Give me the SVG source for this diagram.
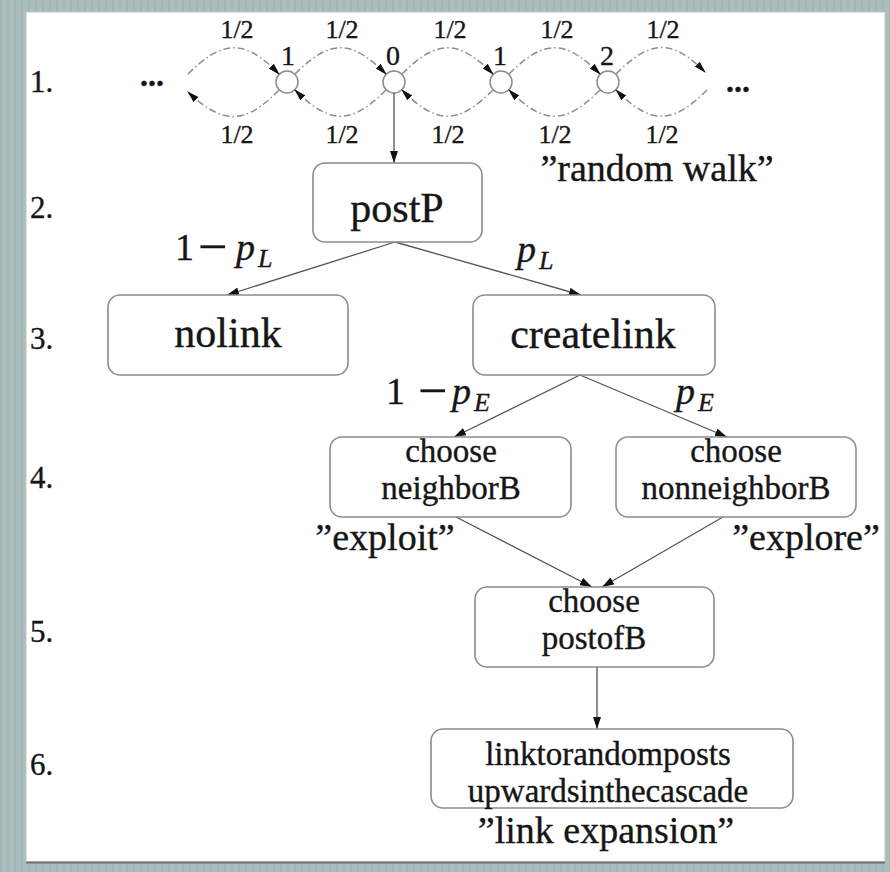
<svg xmlns="http://www.w3.org/2000/svg" width="890" height="872" viewBox="0 0 890 872">
  <defs>
    <pattern id="stripes" width="7" height="10" patternUnits="userSpaceOnUse">
      <rect width="7" height="10" fill="#aabebd"/>
      <rect x="0" width="2" height="10" fill="#a2b6b5"/>
    </pattern>
    <marker id="arrow" viewBox="0 0 12 8" refX="12" refY="4" markerWidth="12" markerHeight="8" markerUnits="userSpaceOnUse" orient="auto">
      <path d="M0,0 L12,4 L0,8 z" fill="#111"/>
    </marker>
    <marker id="walkArrow" viewBox="0 0 12 8" refX="11" refY="4" markerWidth="12" markerHeight="8" markerUnits="userSpaceOnUse" orient="auto">
      <path d="M0,0.5 L12,4 L0,7.5 z" fill="#111"/>
    </marker>
    <style>
      .box { fill: #fff; stroke: #8c8c8c; stroke-width: 1.6; }
      .state { fill: #fff; stroke: #8c8c8c; stroke-width: 1.5; }
      .edge { fill: none; stroke: #555; stroke-width: 1.3; marker-end: url(#arrow); }
      .walk { fill: none; stroke: #8e8e8e; stroke-width: 1.5; stroke-dasharray: 7 3 1.5 3; marker-end: url(#walkArrow); }
      text { font-family: "Liberation Serif", "Times New Roman", serif; fill: #161616; stroke: #161616; stroke-width: 0.35; }
      .c { text-anchor: middle; }
      .step { font-size: 31px; }
      .half { font-size: 26px; text-anchor: middle; }
      .num { font-size: 28px; text-anchor: middle; }
      .big { font-size: 42px; text-anchor: middle; }
      .mid { font-size: 33px; text-anchor: middle; }
      .low { font-size: 33px; text-anchor: middle; }
      .note { font-size: 38px; text-anchor: middle; }
      .math { font-size: 38px; }
      .minus { font-size: 52px; }
      .it { font-style: italic; }
      .sub { font-size: 26px; font-style: italic; }
    </style>
  </defs>

  <!-- backdrop and page -->
  <rect width="890" height="872" fill="url(#stripes)"/>
  <rect x="26" y="12" width="859" height="850" fill="#fff" stroke="#c4c4c4" stroke-width="1"/>
  <line x1="26" y1="862.5" x2="885" y2="862.5" stroke="#6f6f6f" stroke-width="2"/>

  <!-- step numbers -->
  <g id="steps">
    <text class="step" x="30" y="92">1.</text>
    <text class="step" x="30" y="218">2.</text>
    <text class="step" x="30" y="349">3.</text>
    <text class="step" x="30" y="488">4.</text>
    <text class="step" x="30" y="642">5.</text>
    <text class="step" x="30" y="775">6.</text>
  </g>

  <!-- random walk states -->
  <g id="walk-states">
    <g id="state-m1"><circle class="state" cx="287" cy="82" r="11"/><text class="num" x="288" y="65">1</text></g>
    <g id="state-0"><circle class="state" cx="394" cy="82" r="11"/><text class="num" x="393" y="65">0</text></g>
    <g id="state-1"><circle class="state" cx="501" cy="82" r="11"/><text class="num" x="500" y="65">1</text></g>
    <g id="state-2"><circle class="state" cx="608" cy="82" r="11"/><text class="num" x="607" y="65">2</text></g>
    <text x="152" y="86" font-size="32" font-weight="bold" class="c">...</text>
    <text x="738" y="92" font-size="32" font-weight="bold" class="c">...</text>
  </g>

  <!-- random walk transitions -->
  <g id="walk-edges">
    <path class="walk" d="M188,74 C223,39 245,39 279,74"/>
    <path class="walk" d="M279,90 C245,125 223,125 188,92"/>
    <path class="walk" d="M295,74 C330,39 351,39 386,74"/>
    <path class="walk" d="M386,90 C351,125 330,125 295,90"/>
    <path class="walk" d="M402,74 C437,39 458,39 493,74"/>
    <path class="walk" d="M493,90 C458,125 437,125 402,90"/>
    <path class="walk" d="M509,74 C544,39 565,39 600,74"/>
    <path class="walk" d="M600,90 C565,125 544,125 509,90"/>
    <path class="walk" d="M616,74 C651,39 672,39 705,72"/>
    <path class="walk" d="M707,90 C672,125 651,125 616,90"/>
  </g>
  <g id="walk-labels">
    <text class="half" x="237" y="38">1/2</text>
    <text class="half" x="342" y="38">1/2</text>
    <text class="half" x="450" y="38">1/2</text>
    <text class="half" x="557" y="38">1/2</text>
    <text class="half" x="663" y="38">1/2</text>
    <text class="half" x="237" y="143">1/2</text>
    <text class="half" x="342" y="143">1/2</text>
    <text class="half" x="448" y="143">1/2</text>
    <text class="half" x="555" y="143">1/2</text>
    <text class="half" x="662" y="143">1/2</text>
    <text class="note" x="657" y="181">”random walk”</text>
  </g>

  <!-- decision tree connectors -->
  <g id="connectors">
    <line class="edge" x1="394" y1="93" x2="394" y2="163"/>
    <line class="edge" x1="395" y1="242" x2="227" y2="295"/>
    <line class="edge" x1="395" y1="242" x2="581" y2="295"/>
    <line class="edge" x1="580" y1="375" x2="454" y2="437"/>
    <line class="edge" x1="580" y1="375" x2="727" y2="437"/>
    <line class="edge" x1="456" y1="517" x2="592" y2="587"/>
    <line class="edge" x1="723" y1="517" x2="602" y2="587"/>
    <line class="edge" x1="597" y1="667" x2="597" y2="729"/>
  </g>

  <!-- branch probabilities -->
  <g id="probabilities">
    <text class="math"><tspan x="175" y="260">1</tspan><tspan x="198" y="263.5" class="minus">−</tspan><tspan x="236" y="260" class="it">p</tspan><tspan x="258" y="267" class="sub">L</tspan></text>
    <text class="math"><tspan x="517" y="262" class="it">p</tspan><tspan x="539" y="269" class="sub">L</tspan></text>
    <text class="math"><tspan x="386" y="404">1</tspan><tspan x="418" y="407.5" class="minus">−</tspan><tspan x="452" y="404" class="it">p</tspan><tspan x="474" y="411" class="sub">E</tspan></text>
    <text class="math"><tspan x="676" y="404" class="it">p</tspan><tspan x="698" y="411" class="sub">E</tspan></text>
  </g>

  <!-- nodes -->
  <g id="postP">
    <rect class="box" x="313" y="163" width="169" height="79" rx="12"/>
    <text class="big" x="397" y="222">postP</text>
  </g>
  <g id="nolink">
    <rect class="box" x="108" y="295" width="240" height="80" rx="12"/>
    <text class="big" x="228" y="347">nolink</text>
  </g>
  <g id="createlink">
    <rect class="box" x="473" y="295" width="242" height="80" rx="12"/>
    <text class="big" x="593" y="348">createlink</text>
  </g>
  <g id="neighborB">
    <rect class="box" x="330" y="437" width="241" height="80" rx="12"/>
    <text class="mid"><tspan x="451" y="462">choose</tspan><tspan x="451" y="499">neighborB</tspan></text>
  </g>
  <g id="nonneighborB">
    <rect class="box" x="616" y="437" width="240" height="80" rx="12"/>
    <text class="mid"><tspan x="736" y="462">choose</tspan><tspan x="736" y="499">nonneighborB</tspan></text>
  </g>
  <g id="postofB">
    <rect class="box" x="475" y="587" width="239" height="80" rx="12"/>
    <text class="mid"><tspan x="594" y="612">choose</tspan><tspan x="594" y="649">postofB</tspan></text>
  </g>
  <g id="linkexpansion">
    <rect class="box" x="431" y="729" width="362" height="79" rx="12"/>
    <text class="low"><tspan x="608" y="765">linktorandomposts</tspan><tspan x="608" y="802">upwardsinthecascade</tspan></text>
  </g>

  <!-- captions -->
  <g id="captions">
    <text class="note" x="385" y="550">”exploit”</text>
    <text class="note" x="806" y="550">”explore”</text>
    <text class="note" x="606" y="843">”link expansion”</text>
  </g>
</svg>
